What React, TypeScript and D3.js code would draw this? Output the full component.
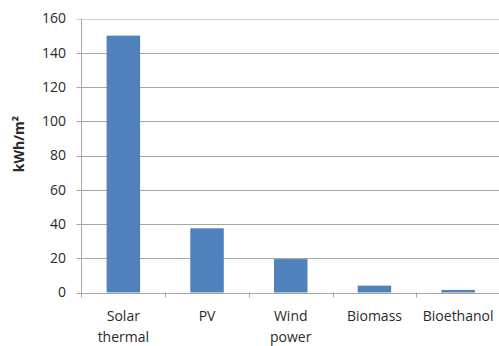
import React from "react";
import * as d3 from "d3";

const categories: string[][] = [["Solar", "thermal"], ["PV"], ["Wind", "power"], ["Biomass"], ["Bioethanol"]];
const values: number[] = [150, 37.5, 19.5, 4, 1.5];
const yTicks: number[] = [0, 20, 40, 60, 80, 100, 120, 140, 160];
const yTitle = "kWh/m²";

export default function App() {
  const W = 499, H = 346;
  const left = 81.5, right = 500, top = 18.5, bottom = 292.5;
  const keys = categories.map((c) => c.join(" "));
  const x = d3.scaleBand<string>().domain(keys).range([left, right]).paddingInner(0.6).paddingOuter(0.3);
  const xb = d3.scaleBand<string>().domain(keys).range([left, right]);
  const y = d3.scaleLinear().domain([0, 160]).range([bottom, top]);
  const font = "'Open Sans', sans-serif";
  const txt = "#2a2a2a";
  const grid = "#a6a6a6";
  return (
    <svg width={W} height={H} style={{ position: "absolute", left: 0, top: 0, background: "#fff" }}>
      {yTicks.map((t) => (
        <g key={t}>
          <line x1={left - 5} x2={right} y1={Math.round(y(t)) + 0.5} y2={Math.round(y(t)) + 0.5} stroke={t === 160 ? "#d0d0d0" : grid} strokeWidth={1} />
          <text x={66} y={y(t)} dy="0.35em" textAnchor="end" fontFamily={font} fontSize={14} fill={txt}>{t}</text>
        </g>
      ))}
      <line x1={left} x2={left} y1={top} y2={bottom + 5} stroke={grid} />
      {keys.map((k) => (
        <line key={"t" + k} x1={Math.round(xb(k)! + xb.bandwidth()) + 0.5} x2={Math.round(xb(k)! + xb.bandwidth()) + 0.5} y1={bottom} y2={bottom + 5} stroke={grid} />
      ))}
      {keys.map((k, i) => (
        <rect key={"b" + k} x={x(k)} width={x.bandwidth()} y={y(values[i])} height={y(0) - y(values[i])} fill="#4f81bd" />
      ))}
      {categories.map((c, i) => (
        <text key={"l" + i} textAnchor="middle" fontFamily={font} fontSize={14} fill={txt}>
          {c.map((line, j) => (
            <tspan key={j} x={xb(keys[i])! + xb.bandwidth() / 2} y={321 + j * 21}>{line}</tspan>
          ))}
        </text>
      ))}
      <text transform={`translate(24,144) rotate(-90)`} textAnchor="middle" fontFamily={font} fontSize={14} fontWeight="bold" fill={txt}>{yTitle}</text>
    </svg>
  );
}
